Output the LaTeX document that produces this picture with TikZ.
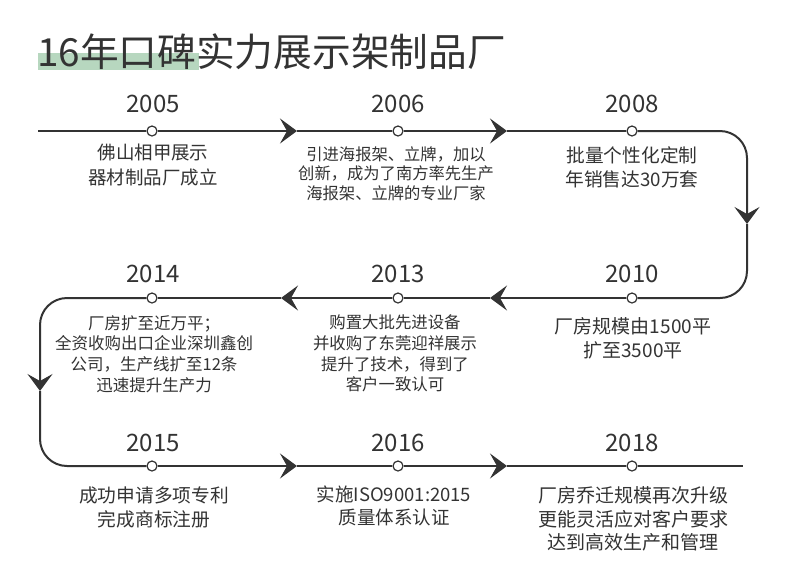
\documentclass[tikz,border=0pt]{standalone}
\usepackage{fontspec}
\setmainfont{Noto Sans CJK SC}
\usetikzlibrary{arrows.meta}
\definecolor{ink}{HTML}{333333}
\definecolor{hl}{HTML}{B7D7BF}
\tikzset{
  line/.style={draw=ink, line width=2pt},
  tip/.style={-{Stealth[length=17pt,width=25pt,inset=7pt]}},
  dot/.style={circle, draw=ink, fill=white, line width=1.2pt, minimum size=10pt, inner sep=0pt},
  year/.style={text=ink, font=\fontsize{24}{28}\selectfont, inner sep=0pt},
  desc/.style={text=ink, align=center, inner sep=0pt},
}
\newcommand{\fs}[2]{\fontsize{#1}{#2}\selectfont}
\begin{document}
\begin{tikzpicture}[x=1pt,y=-1pt]
\useasboundingbox[fill=white] (0,0) rectangle (790,579);
% title
\fill[hl] (38,53) rectangle (199,69.5);
\node[anchor=base west, text=ink, font=\fs{38.7}{42}, inner sep=0pt] (title) at (37,66.5) {16年口碑实力展示架制品厂};
% dots
\node[dot] (c2005) at (152,131) {};
\node[dot] (c2006) at (398,131) {};
\node[dot] (c2008) at (632,131) {};
\node[dot] (c2010) at (632,298) {};
\node[dot] (c2013) at (398,298) {};
\node[dot] (c2014) at (152,298) {};
\node[dot] (c2015) at (152,466) {};
\node[dot] (c2016) at (398,466) {};
\node[dot] (c2018) at (632,466) {};
% coordinates
\coordinate (s) at (38,131);
\coordinate (t1) at (297,131);
\coordinate (t2) at (507,131);
\coordinate (r1) at (747,131);
\coordinate (t3) at (747,224);
\coordinate (r2) at (747,298);
\coordinate (t4) at (490,298);
\coordinate (t5) at (281,298);
\coordinate (l1) at (40,298);
\coordinate (t6) at (40,391);
\coordinate (l2) at (40,466);
\coordinate (t7) at (297,466);
\coordinate (t8) at (507,466);
\coordinate (e) at (743,466);
% connectors
\draw[line] (s) -- (c2005);
\draw[line,tip] (c2005) -- (t1);
\draw[line] (t1) -- (c2006);
\draw[line,tip] (c2006) -- (t2);
\draw[line] (t2) -- (c2008);
\draw[line,tip,rounded corners=27pt] (c2008) -- (r1) -- (t3);
\draw[line,rounded corners=27pt] (t3) -- (r2) -- (c2010);
\draw[line,tip] (c2010) -- (t4);
\draw[line] (t4) -- (c2013);
\draw[line,tip] (c2013) -- (t5);
\draw[line] (t5) -- (c2014);
\draw[line,tip,rounded corners=27pt] (c2014) -- (l1) -- (t6);
\draw[line,rounded corners=27pt] (t6) -- (l2) -- (c2015);
\draw[line,tip] (c2015) -- (t7);
\draw[line] (t7) -- (c2016);
\draw[line,tip] (c2016) -- (t8);
\draw[line] (t8) -- (c2018);
\draw[line] (c2018) -- (e);
% years
\node[year] (y2005) at (153,104) {2005};
\node[year] (y2006) at (398,104) {2006};
\node[year] (y2008) at (632,104) {2008};
\node[year] (y2010) at (632,274) {2010};
\node[year] (y2013) at (398,274) {2013};
\node[year] (y2014) at (153,274) {2014};
\node[year] (y2015) at (153,443) {2015};
\node[year] (y2016) at (398,443) {2016};
\node[year] (y2018) at (632,443) {2018};
% descriptions
\node[desc, font=\fs{18.5}{25}] (d2005) at (153,165.5) {佛山相甲展示\\器材制品厂成立};
\node[desc, font=\fs{16.3}{19.5}] (d2006) at (396,173.5) {引进海报架、立牌，加以\\创新，成为了南方率先生产\\海报架、立牌的专业厂家};
\node[desc, font=\fs{18.7}{24}] (d2008) at (632,167) {批量个性化定制\\年销售达30万套};
\node[desc, font=\fs{19}{23.5}] (d2010) at (633,338.5) {厂房规模由1500平\\扩至3500平};
\node[desc, font=\fs{16.4}{20.7}] (d2013) at (395,353.5) {购置大批先进设备\\并收购了东莞迎祥展示\\提升了技术，得到了\\客户一致认可};
\node[desc, font=\fs{16.5}{20.7}] (d2014) at (154,354) {厂房扩至近万平；\\全资收购出口企业深圳鑫创\\公司，生产线扩至12条\\迅速提升生产力};
\node[desc, font=\fs{18.7}{24}] (d2015) at (154,507) {成功申请多项专利\\完成商标注册};
\node[desc, font=\fs{18.5}{22.5}] (d2016) at (394,506) {实施ISO9001:2015\\质量体系认证};
\node[desc, font=\fs{19}{23.5}] (d2018) at (633,519) {厂房乔迁规模再次升级\\更能灵活应对客户要求\\达到高效生产和管理};
\end{tikzpicture}
\end{document}
